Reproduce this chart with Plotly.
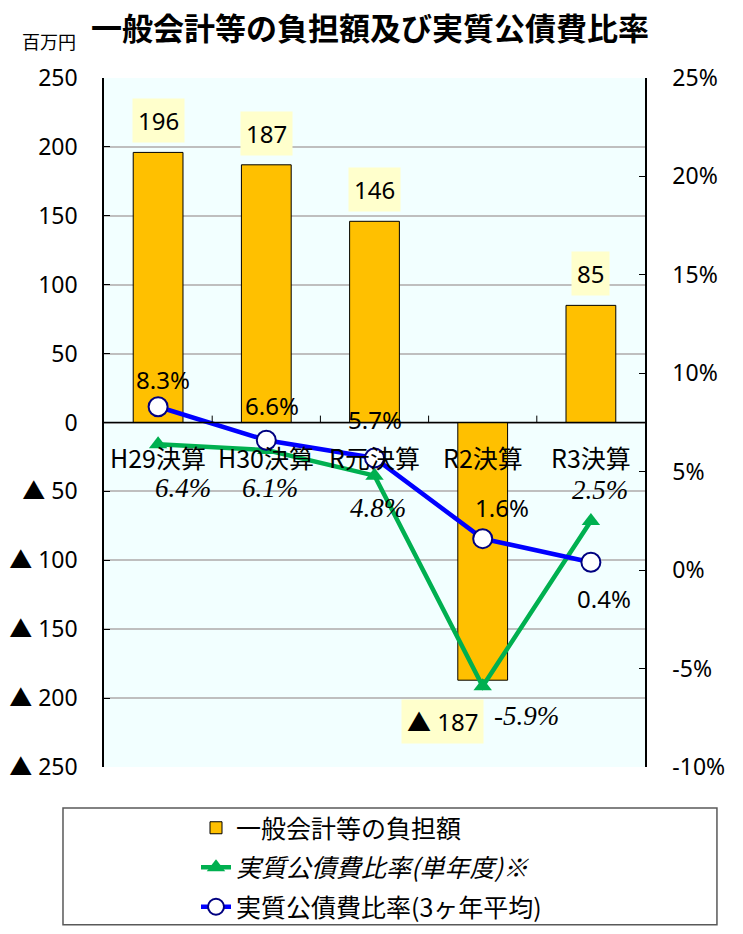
import plotly.graph_objects as go

categories = ["H29決算", "H30決算", "R元決算", "R2決算", "R3決算"]
burden = [196, 187, 146, -187, 85]
ratio_single = [6.4, 6.1, 4.8, -5.9, 2.5]
ratio_avg3 = [8.3, 6.6, 5.7, 1.6, 0.4]

left_ticks = [250, 200, 150, 100, 50, 0, -50, -100, -150, -200, -250]
right_ticks = [25, 20, 15, 10, 5, 0, -5, -10]

# label offsets in pixels (dx, dy), layout only
bar_label_off = [(0, 9), (0, 9), (0, 9), (-40, -19), (0, 9)]
single_off = [(25, -44), (4, -38), (3, -32), (44, -30), (9, 31)]
avg_off = [(5, 27), (6, 35), (0, 38), (19, 31), (13, -36)]

JP = "Noto Sans CJK JP"
NUM = "Noto Sans, Noto Sans CJK JP"

# the page body adds an 8px offset; the figure is sized to fit the window
W, H = 735, 926

def fmt_left(v):
    return "0" if v == 0 else (str(v) if v > 0 else "▲ " + str(-v))

fig = go.Figure()
fig.add_trace(go.Bar(
    x=categories, y=burden, name="一般会計等の負担額",
    marker=dict(color="#FFC000", line=dict(color="#000000", width=1)),
    width=0.46, yaxis="y", legendgroup="a",
))
fig.add_trace(go.Scatter(
    x=categories, y=ratio_single, name="<i>実質公債費比率(単年度)※</i>",
    mode="lines+markers", yaxis="y2", legendgroup="b",
    line=dict(color="#00B050", width=4.5),
    marker=dict(symbol="triangle-up", size=16, color="#00B050"),
))
fig.add_trace(go.Scatter(
    x=categories, y=ratio_avg3, name="実質公債費比率(3ヶ年平均)",
    mode="lines+markers", yaxis="y2", legendgroup="c",
    line=dict(color="#0000FF", width=4.5),
    marker=dict(symbol="circle", size=19, color="#FFFFFF",
                line=dict(color="#000080", width=2)),
))

ann = []
for c in categories:
    ann.append(dict(
        x=c, y=0, xref="x", yref="y", text=c, showarrow=False,
        yanchor="top", yshift=-14,
        font=dict(family=JP, size=25, color="#000000"),
    ))
for i, (c, v) in enumerate(zip(categories, burden)):
    dx, dy = bar_label_off[i]
    ann.append(dict(
        x=c, y=v, xref="x", yref="y", text=fmt_left(v), showarrow=False,
        xshift=dx, yshift=dy, yanchor="bottom" if v > 0 else "top",
        bgcolor="#FFFFCC", borderpad=5,
        font=dict(family=NUM, size=24, color="#000000"),
    ))
for i, (c, v) in enumerate(zip(categories, ratio_single)):
    dx, dy = single_off[i]
    ann.append(dict(
        x=c, y=v, xref="x", yref="y2", text=f"<i>{v:.1f}%</i>", showarrow=False,
        xshift=dx, yshift=dy,
        font=dict(family="Liberation Serif", size=27, color="#000000"),
    ))
for i, (c, v) in enumerate(zip(categories, ratio_avg3)):
    dx, dy = avg_off[i]
    ann.append(dict(
        x=c, y=v, xref="x", yref="y2", text=f"{v:.1f}%", showarrow=False,
        xshift=dx, yshift=dy,
        font=dict(family=NUM, size=24, color="#000000"),
    ))
ann.append(dict(
    x=-0.1017, y=1.054, xref="paper", yref="paper", text="百万円", showarrow=False,
    xanchor="center", yanchor="middle",
    font=dict(family=JP, size=18, color="#000000"),
))

shapes = [
    dict(type="line", xref="paper", yref="y", x0=0, x1=1, y0=0, y1=0,
         line=dict(color="#000000", width=1.5)),
    dict(type="rect", xref="paper", yref="paper", x0=-0.0758, x1=1.133,
         y0=-0.229, y1=-0.0595, line=dict(color="#595959", width=1.5)),
]
for i in range(len(categories) - 1):
    shapes.append(dict(type="line", xref="x", yref="y", x0=i + 0.5, x1=i + 0.5,
                       y0=0, y1=5, line=dict(color="#000000", width=1)))

fig.update_layout(
    width=W, height=H,
    margin=dict(l=96, r=98, t=70, b=167, autoexpand=False),
    paper_bgcolor="#FFFFFF", plot_bgcolor="#F2FFFF",
    title=dict(text="<b>一般会計等の負担額及び実質公債費比率</b>",
               x=362 / W, xref="container", y=1 - 21 / H, yref="container",
               xanchor="center", yanchor="middle",
               font=dict(family=JP, size=31, color="#000000")),
    showlegend=True,
    legend=dict(x=188 / W, xanchor="left", y=1 - 797 / H, yanchor="top",
                xref="container", yref="container",
                font=dict(family=JP, size=25, color="#000000"),
                traceorder="grouped", tracegroupgap=4,
                bgcolor="rgba(0,0,0,0)"),
    xaxis=dict(showticklabels=False, ticks="", showgrid=False,
               showline=False, zeroline=False, range=[-0.5, 4.5]),
    yaxis=dict(range=[-250, 250], tickvals=left_ticks,
               ticktext=[fmt_left(v) for v in left_ticks], automargin=False,
               showgrid=True, gridcolor="#BFBFBF", gridwidth=1.5,
               zeroline=False, showline=True, linecolor="#000000", linewidth=1.5,
               ticks="inside", ticklen=6, tickcolor="#000000",
               tickfont=dict(family=NUM, size=23, color="#000000"), ticklabelstandoff=20),
    yaxis2=dict(range=[-10, 25], tickvals=right_ticks,
                ticktext=[f"{v}%" for v in right_ticks], automargin=False,
                overlaying="y", side="right", showgrid=False, zeroline=False,
                showline=True, linecolor="#000000", linewidth=1.5,
                ticks="inside", ticklen=6, tickcolor="#000000",
                tickfont=dict(family=NUM, size=23, color="#000000"), ticklabelstandoff=21),
    annotations=ann, shapes=shapes,
)

fig.write_html("out.html")
